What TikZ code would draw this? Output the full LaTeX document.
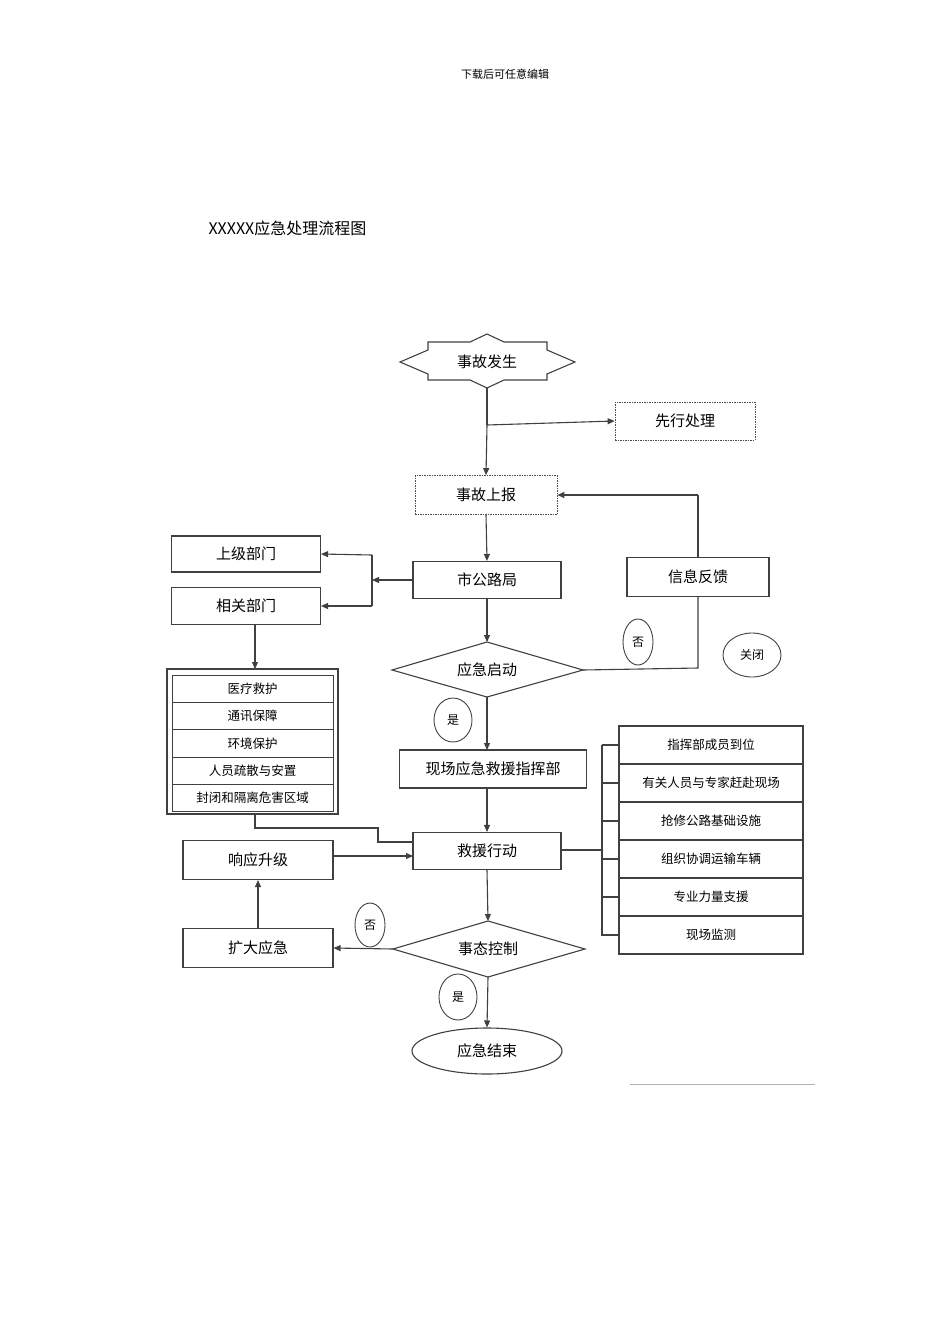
\documentclass[tikz,border=0pt]{standalone}
\usepackage{fontspec}
\setmainfont{Noto Sans CJK SC}
\usetikzlibrary{arrows.meta,shapes.geometric}
\begin{document}
\begin{tikzpicture}[x=1pt,y=-1pt,
  ln/.style={draw=black!75,line width=1.1pt},
  ar/.style={ln,-{Triangle[length=7pt,width=6pt]}},
  bx/.style={ln,fill=white,font=\fontsize{15}{15}\selectfont},
  it/.style={draw=black!75,line width=0.9pt,font=\fontsize{12.5}{12.5}\selectfont},
  ov/.style={draw=black!75,line width=0.9pt,font=\fontsize{12}{12}\selectfont}]
\useasboundingbox (0,0) rectangle (950,1344);
\node (hdr) at (505,74) {\fontsize{11}{11}\selectfont 下载后可任意编辑};
\node[anchor=west] (title) at (205,228) {\fontsize{16}{16}\selectfont XXXXX应急处理流程图};
% start star
\draw[ln] (400,362)--(428,350)--(428,342)--(470,342)--(487,334)--(504,342)--(547,342)--(547,350)--(575,362)--(547,374)--(547,380)--(504,380)--(487,388)--(470,380)--(428,380)--(428,374)--cycle;
\node[font=\fontsize{15}{15}\selectfont] (s) at (487,362) {事故发生};
\coordinate (sb) at (487,388);
\node[bx,draw=black!70,dash pattern=on 1.5pt off 1pt,line width=0.8pt,minimum width=140pt,minimum height=38pt] (xx) at (685,421) {先行处理};
\node[bx,draw=black!70,dash pattern=on 1.5pt off 1pt,line width=0.8pt,minimum width=142pt,minimum height=39pt] (sb2) at (486,495) {事故上报};
\coordinate (j1) at (487,425);
\draw[ln] (sb)--(j1);
\draw[ar] (j1)--(xx.west);
\draw[ar] (j1)--(sb2.north);
\node[bx,minimum width=148pt,minimum height=37pt] (gl) at (487,580) {市公路局};
\draw[ar] (sb2.south)--(gl.north);
\node[bx,minimum width=149pt,minimum height=36pt] (sj) at (246,554) {上级部门};
\node[bx,minimum width=149pt,minimum height=37pt] (xg) at (246,606) {相关部门};
\coordinate (b1) at (372,580);
\coordinate (b2) at (372,555);
\coordinate (b3) at (372,606);
\draw[ar] (gl.west)--(b1);
\draw[ln] (b2)--(b3);
\draw[ar] (b2)--(sj.east);
\draw[ar] (b3)--(xg.east);
% diamond 1
\draw[ln,fill=white] (392,670)--(487,642)--(583,670)--(487,697)--cycle;
\node[font=\fontsize{15}{15}\selectfont] (qd) at (487,670) {应急启动};
\draw[ar] (gl.south)--(487,642);
\node[bx,minimum width=142pt,minimum height=39pt] (fk) at (698,577) {信息反馈};
\coordinate (c1) at (698,668);
\coordinate (c2) at (698,495);
\draw[ln] (583,670)--(c1)--(fk.south);
\draw[ln] (fk.north)--(c2);
\draw[ar] (c2)--(sb2.east);
\node[ov,ellipse,minimum width=30pt,minimum height=46pt,inner sep=0pt] (f1) at (638,642) {否};
\node[ov,ellipse,minimum width=58pt,minimum height=44pt,inner sep=0pt] (gb) at (752,655) {关闭};
\node[ov,ellipse,minimum width=38pt,minimum height=44pt,inner sep=0pt] (y1) at (453,720) {是};
\node[bx,minimum width=187pt,minimum height=38pt] (zh) at (493,769) {现场应急救援指挥部};
\draw[ar] (487,697)--(487,750);
\node[bx,minimum width=148pt,minimum height=37pt] (jy) at (487,851) {救援行动};
\draw[ar] (zh.south -| jy.north)--(jy.north);
% left list
\draw[ln] (167,669) rectangle (338,814);
\foreach \t [count=\i] in {医疗救护,通讯保障,环境保护,人员疏散与安置,封闭和隔离危害区域}{
  \node[it,minimum width=161pt,minimum height=27.3pt,inner sep=0pt] (L\i) at (252.5,661.5+27.3*\i) {\t};
}
\draw[ar] (xg.south -| 255,0)--(255,669);
\coordinate (l1) at (255,814);
\coordinate (l2) at (255,828);
\coordinate (l3) at (378,828);
\coordinate (l4) at (378,842);
\draw[ln] (l1)--(l2)--(l3)--(l4)--(413,842);
\node[bx,minimum width=150pt,minimum height=39pt] (sj2) at (258,860) {响应升级};
\node[bx,minimum width=150pt,minimum height=39pt] (kd) at (258,948) {扩大应急};
\draw[ar] (sj2.east |- 0,856)--(413,856);
\draw[ar] (kd.north)--(sj2.south);
% diamond 2
\draw[ln,fill=white] (393,949)--(488,921)--(585,949)--(488,977)--cycle;
\node[font=\fontsize{15}{15}\selectfont] (tk) at (488,949) {事态控制};
\draw[ar] (jy.south)--(488,921);
\draw[ar] (393,949)--(kd.east);
\node[ov,ellipse,minimum width=30pt,minimum height=44pt,inner sep=0pt] (f2) at (370,925) {否};
\node[ov,ellipse,minimum width=38pt,minimum height=46pt,inner sep=0pt] (y2) at (458,997) {是};
\node[bx,ellipse,minimum width=150pt,minimum height=46pt,inner sep=0pt] (end) at (487,1051) {应急结束};
\draw[ar] (488,977)--(end.north);
% right list
\coordinate (r0) at (602,850);
\draw[ln] (jy.east |- r0)--(r0);
\draw[ln] (602,745)--(602,936);
\foreach \t [count=\i] in {指挥部成员到位,有关人员与专家赶赴现场,抢修公路基础设施,组织协调运输车辆,专业力量支援,现场监测}{
  \node[bx,font=\fontsize{12.5}{12.5}\selectfont,minimum width=184pt,minimum height=38pt,inner sep=0pt] (R\i) at (711,707+38*\i) {\t};
  \draw[ln] (602,707+38*\i)--(R\i.west);
}
\draw[black!30,line width=0.8pt] (630,1084)--(815,1084);
\end{tikzpicture}
\end{document}
